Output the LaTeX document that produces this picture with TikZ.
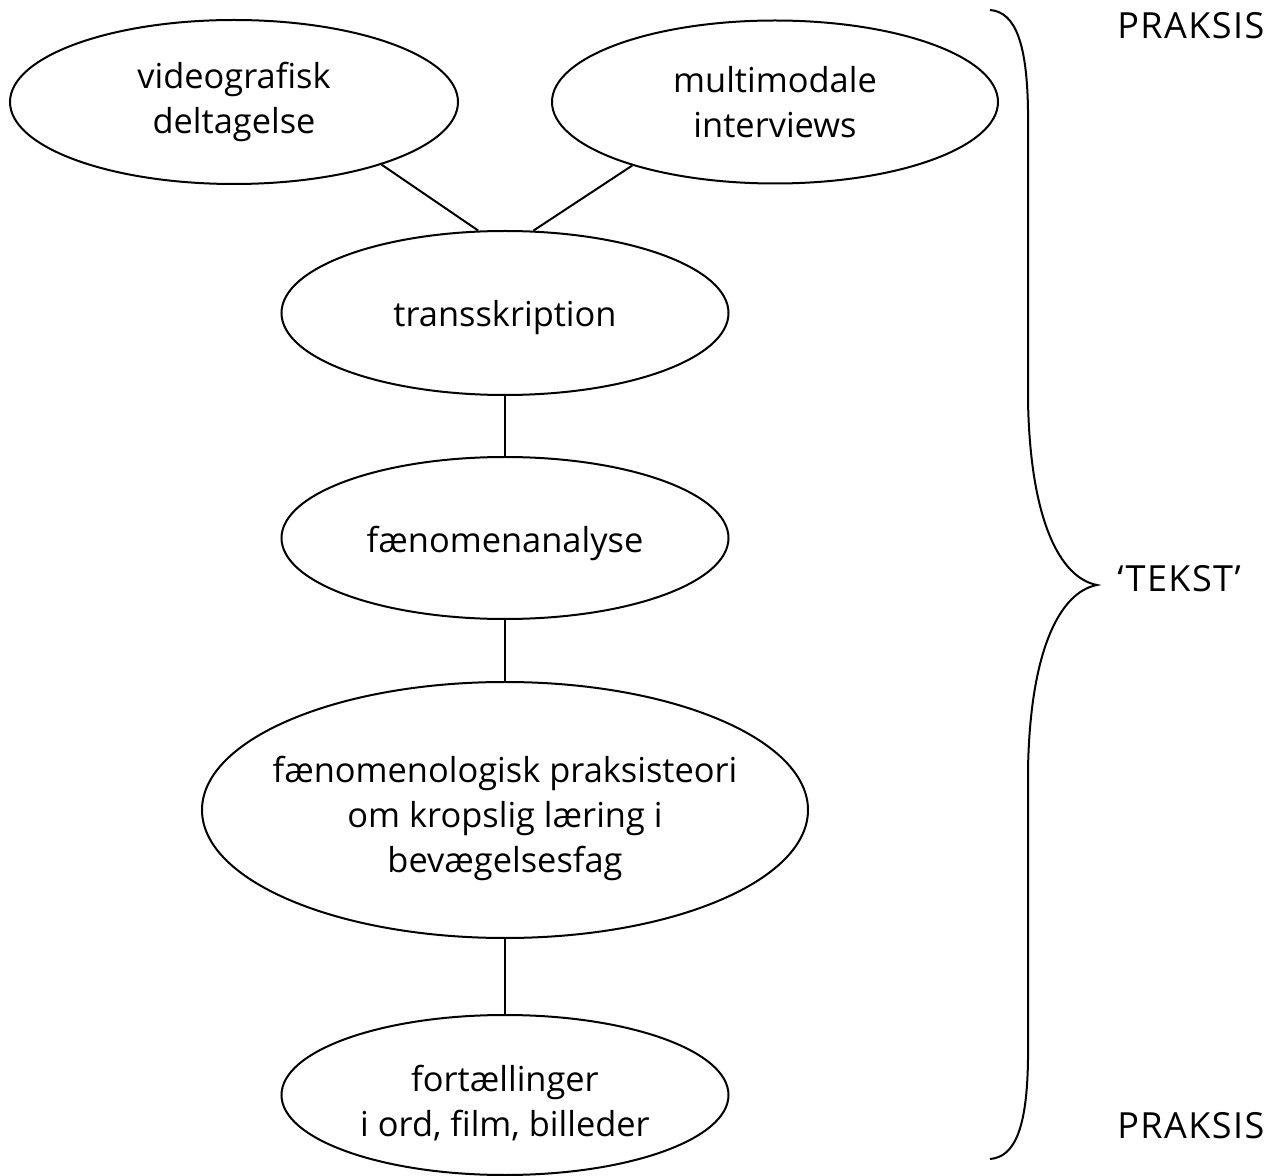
\documentclass[tikz,border=0pt]{standalone}
\usepackage{fontspec}
\setmainfont{Open Sans}
\newfontfamily\sidefont[LetterSpace=4]{Open Sans}
\usetikzlibrary{shapes.geometric}

\tikzset{
  oval/.style={draw, line width=1pt, ellipse, inner sep=0pt},
  ovaltext/.style={align=center, inner sep=0pt, font=\fontsize{17.2pt}{22.5pt}\selectfont},
  link/.style={line width=1pt},
  sidetext/.style={anchor=base west, inner sep=0pt, font=\sidefont\fontsize{18pt}{21pt}\selectfont},
}

\begin{document}
\begin{tikzpicture}[x=0.5pt,y=-0.5pt]
  \useasboundingbox (0,0) rectangle (1276,1176);

  % process steps
  \node[oval, minimum width=224pt, minimum height=82pt,
        label={[ovaltext]center:videografisk\\deltagelse}] (vid) at (234,102) {};
  \node[oval, minimum width=223pt, minimum height=81.5pt,
        label={[ovaltext]center:multimodale\\interviews}] (mul) at (775,102) {};
  \node[oval, minimum width=223.5pt, minimum height=82pt,
        label={[ovaltext, yshift=-2.5pt]center:transskription}] (tra) at (505,313) {};
  \node[oval, minimum width=223.5pt, minimum height=81pt,
        label={[ovaltext, yshift=-2.5pt]center:fænomenanalyse}] (fan) at (505,538) {};
  \node[oval, minimum width=303pt, minimum height=128pt,
        label={[ovaltext, yshift=-4pt]center:fænomenologisk praksisteori\\om kropslig læring i\\bevægelsesfag}] (fpt) at (505,810) {};
  \node[oval, minimum width=223.5pt, minimum height=80pt,
        label={[ovaltext, yshift=-4pt]center:fortællinger\\i ord, film, billeder}] (fort) at (505,1095) {};

  % connections
  \draw[link] (vid.-23.3) -- (tra.108.9);
  \draw[link] (mul.-156.7) -- (tra.71.8);
  \draw[link] (tra) -- (fan);
  \draw[link] (fan) -- (fpt);
  \draw[link] (fpt) -- (fort);

  % curly brace on the right
  \draw[line width=1pt]
    (990,10) .. controls (1016,12) and (1027,45) .. (1028,110)
    -- (1028,400)
    .. controls (1030,520) and (1060,578) .. (1097,585)
    .. controls (1060,592) and (1030,650) .. (1028,770)
    -- (1028,1060)
    .. controls (1027,1125) and (1016,1157) .. (990,1159);

  % side labels
  \node[sidetext] (top) at (1117,39) {PRAKSIS};
  \node[sidetext] (mid) at (1117,592) {‘TEKST’};
  \node[sidetext] (bot) at (1117,1138) {PRAKSIS};
\end{tikzpicture}
\end{document}
